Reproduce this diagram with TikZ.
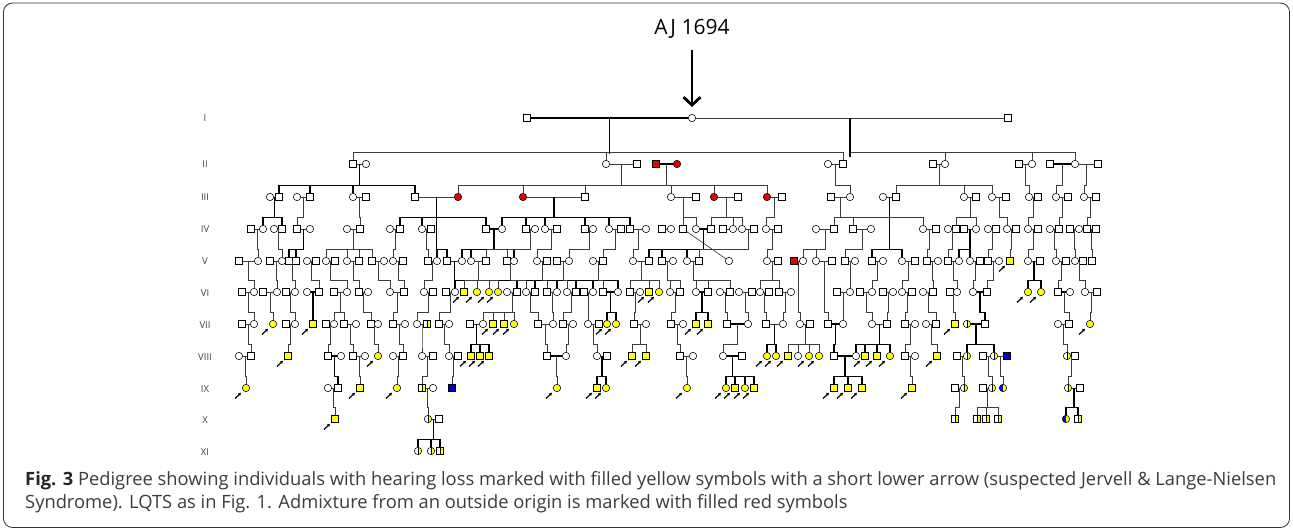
\documentclass[tikz,border=0pt]{standalone}
\usepackage{fontspec}
\setmainfont{Open Sans}
\usepackage{graphicx}
\usetikzlibrary{calc,arrows.meta}
\definecolor{pyel}{RGB}{255,255,0}
\definecolor{pred}{RGB}{232,0,0}
\definecolor{pblue}{RGB}{0,0,205}
\definecolor{lgray}{RGB}{60,60,60}
\definecolor{capgray}{RGB}{60,60,60}
\newcommand\gen[3]{\foreach \xx/\tp in {#3}{\node[\tp] (#1\xx) at (\xx,#2) {};}}
\newcommand\weds[2][ln]{\foreach \pa/\pb in {#2}{\draw[#1] (\pa) -- (\pb);}}
\newcommand\fmly[4][ln]{\foreach \ch in {#4}{\draw[#1] ($(#2)!.5!(#3)$) |- ([yshift=7.5pt]\ch.north) -- (\ch.north);}}
\newcommand\arrs[1]{\foreach \nn in {#1}{\draw[arw] ([shift={(-11pt,-10.5pt)}]\nn.center) -- ([shift={(-5pt,-4.8pt)}]\nn.center);}}
\newcommand\capone{\textbf{\color{black!85}Fig. 3} Pedigree showing individuals with hearing loss marked with filled yellow symbols with a short lower arrow (suspected Jervell \& Lange-Nielsen}
\newcommand\captwo{Syndrome). LQTS as in Fig. 1. Admixture from an outside origin is marked with filled red symbols}
\newlength\capw
\begin{document}
\settowidth\capw{\fontsize{14}{18}\selectfont\capone}
\pgfmathsetmacro\capsc{1251/\capw}
\begin{tikzpicture}[x=1pt,y=-1pt,
 sym/.style={draw=black, line width=0.55pt, inner sep=0pt, minimum size=7.4pt, fill=white},
 ma/.style={sym, rectangle},
 fe/.style={sym, circle},
 may/.style={ma, fill=pyel}, fey/.style={fe, fill=pyel},
 mar/.style={ma, fill=pred}, fer/.style={fe, fill=pred},
 mab/.style={ma, fill=pblue}, feb/.style={fe, fill=pblue},
 mac/.style={ma, path picture={\fill[pyel] (path picture bounding box.north) rectangle (path picture bounding box.south east); \draw[line width=0.4pt] (path picture bounding box.north) -- (path picture bounding box.south);}},
 fec/.style={fe, path picture={\fill[pyel] (path picture bounding box.north) rectangle (path picture bounding box.south east); \draw[line width=0.4pt] (path picture bounding box.north) -- (path picture bounding box.south);}},
 fehb/.style={fe, path picture={\fill[pblue] (path picture bounding box.north west) rectangle (path picture bounding box.south); \fill[pyel] (path picture bounding box.north) rectangle (path picture bounding box.south east);}},
 ln/.style={line width=0.65pt, draw=lgray},
 bd/.style={line width=1.5pt, draw=black},
 arw/.style={line width=1.2pt, black, -{Stealth[length=3pt,width=3.4pt]}},
 glab/.style={font=\fontsize{9.5}{10}\selectfont, text=black!75, inner sep=0pt},
 bigarr/.style={line width=2.8pt, -{Straight Barb[length=8pt,width=17pt]}},
]
\useasboundingbox (0,0) rectangle (1293,529);
\fill[white] (0,0) rectangle (1293,529);
\draw[line width=0.8pt, black!80, rounded corners=9pt] (3.5,3) rectangle (1289.5,527.5);

% title
\node[font=\fontsize{21}{24}\selectfont] (title) at (692,29) {AJ 1694};

% generation labels
\foreach \lab/\yy in {I/118,II/164,III/197,IV/229,V/261,VI/293,VII/325,VIII/357,IX/389,X/420,XI/452}
  {\node[glab] (lab\lab) at (205,\yy) {\lab};}

% ---------------- symbols ----------------
\gen{a}{118}{527/ma,692/fe,1008/ma}
\gen{b}{164}{353/ma,366/fe,606/fe,637/ma,656/mar,677/fer,828/fe,843/ma,933/ma,945/fe,1019/ma,1032/fe,1050/ma,1075/fe,1098/ma}
\gen{c}{197}{270/fe,279/ma,297/fe,310/ma,353/fe,366/ma,415/ma,458/fer,523/fer,585/ma,671/fe,696/ma,714/fer,738/ma,767/fer,782/ma,831/ma,850/fe,883/fe,896/ma,964/fe,976/ma,992/fe,1006/ma,1029/fe,1038/ma,1056/fe,1068/ma,1084/fe,1096/ma}
\gen{d}{229}{251/ma,263/fe,274/fe,282/ma,297/ma,310/fe,347/fe,360/ma,390/fe,400/ma,422/fe,431/ma,486/ma,502/fe,526/ma,535/fe,545/fe,557/ma,585/ma,593/fe,609/fe,621/ma,630/ma,646/fe,662/ma,671/fe,683/ma,696/fe,711/ma,723/ma,733/fe,742/fe,754/ma,766/fe,778/ma,816/fe,834/ma,853/ma,871/fe,923/fe,936/ma,948/fe,956/ma,964/ma,976/fe,988/fe,996/ma,1007/fe,1016/ma,1028/fe,1038/ma,1050/fe,1059/ma,1070/ma,1079/fe,1087/ma,1096/ma}
\gen{e}{261}{239/ma,258/fe,270/ma,282/fe,289/ma,296/ma,307/fe,316/ma,326/fe,335/ma,347/fe,359/ma,372/ma,384/fe,393/fe,403/ma,428/ma,437/fe,447/ma,462/fe,471/fe,486/ma,507/ma,514/fe,537/fe,547/ma,557/ma,569/fe,593/fe,603/ma,633/fe,649/ma,662/ma,673/fe,687/fe,699/ma,729/fe,767/fe,778/ma,794/mar,803/fe,816/fe,832/ma,845/ma,855/fe,872/ma,883/fe,902/fe,915/ma,927/ma,938/fe,948/ma,959/fe,970/fe,980/ma,988/ma,999/fe,1010/may,1028/fe,1040/ma,1056/fe,1066/ma,1075/fe,1083/ma,1092/ma}
\gen{f}{292}{242/ma,254/fe,263/ma,277/fe,286/ma,295/fe,307/fe,319/ma,334/ma,347/fe,359/ma,368/fe,390/fe,404/ma,424/fe,433/ma,446/ma,455/fe,464/may,477/fey,489/fey,498/fey,507/fe,517/ma,526/fe,535/ma,547/ma,557/fe,567/fe,576/ma,584/ma,593/fe,603/ma,618/fe,630/ma,640/fe,649/may,659/fey,670/fe,680/ma,696/fe,708/ma,720/fe,730/ma,739/fe,752/ma,760/fe,769/ma,779/ma,791/fe,837/ma,850/fe,860/ma,872/fe,883/ma,893/fe,902/fe,912/ma,923/fe,933/ma,950/ma,957/fe,973/fe,987/ma,1028/fey,1041/fey,1058/ma,1070/fe,1085/fe,1097/ma}
\gen{g}{324}{242/ma,254/fe,273/fey,286/ma,295/fe,313/may,326/ma,334/fe,344/ma,356/fe,371/ma,378/fe,393/ma,405/fe,417/fe,427/mac,439/ma,449/fe,470/ma,483/fe,493/may,504/may,514/fey,538/ma,553/fe,563/ma,573/fe,588/fe,599/ma,607/fey,616/fey,634/ma,646/fe,671/ma,683/fe,696/may,708/may,727/ma,748/fe,766/ma,783/fe,800/fe,810/ma,828/ma,843/fe,872/fe,887/ma,905/ma,915/fe,926/fe,936/ma,955/may,967/fec,985/ma,1058/fe,1069/ma,1090/fey}
\gen{h}{356}{239/fe,251/ma,288/may,328/ma,341/fe,353/ma,365/fe,378/fey,393/fe,403/ma,422/fe,433/ma,449/fe,458/ma,471/may,480/may,489/may,547/ma,566/fe,597/fe,607/ma,632/may,646/may,680/ma,693/fe,723/fe,742/ma,767/fey,776/fey,788/may,798/fe,809/fey,819/fey,834/ma,856/fe,865/may,877/may,890/fey,905/ma,915/fe,937/may,957/ma,967/fec,983/ma,994/fec,1007/mab,1067/fec,1075/ma}
\gen{i}{388}{246/fey,328/fe,338/ma,360/may,397/fey,422/mac,433/fe,452/mab,557/fey,597/may,606/fey,687/fey,726/fey,735/may,745/fey,754/may,834/may,848/may,862/may,912/may,955/ma,964/fec,983/ma,992/fec,1003/fehb,1068/fec,1080/ma}
\gen{j}{419}{335/may,428/fec,439/ma,955/mac,977/mac,986/mac,998/mac,1066/fehb,1078/mac}
\gen{k}{451}{418/fec,431/fec,440/mac}

% ---------------- marriages ----------------
\weds[bd]{a527/a692}
\weds{a692/a1008}
\weds{b353/b366,b606/b637,b828/b843,b933/b945,b1019/b1032,b1075/b1098}
\weds[bd]{b656/b677,b1050/b1075}
\weds{c270/c279,c297/c310,c353/c366,c415/c458,c523/c585,c671/c696,c714/c738,c767/c782,c831/c850,c883/c896,c964/c976,c992/c1006,c1029/c1038,c1056/c1068,c1084/c1096}
\weds{d251/d263,d274/d282,d297/d310,d347/d360,d390/d400,d422/d431,d526/d535,d545/d557,d585/d593,d609/d621,d630/d646,d662/d671,d723/d733,d742/d754,d766/d778,d816/d834,d853/d871,d923/d936,d948/d956,d964/d976,d988/d996,d1007/d1016,d1028/d1038,d1050/d1059,d1070/d1079,d1087/d1096}
\weds[bd]{d486/d502,d696/d711}
\weds{e239/e258,e270/e282,e289/e296,e307/e316,e326/e335,e347/e359,e372/e384,e393/e403,e428/e437,e447/e462,e471/e486,e507/e514,e537/e547,e557/e569,e593/e603,e633/e649,e662/e673,e687/e699,e767/e778,e794/e803,e816/e832,e845/e855,e872/e883,e902/e915,e927/e938,e948/e959,e970/e980,e988/e999,e1028/e1040,e1056/e1066,e1075/e1083}
\weds{f242/f254,f263/f277,f286/f295,f334/f347,f359/f368,f390/f404,f424/f433,f446/f455,f507/f517,f526/f535,f547/f557,f567/f576,f584/f593,f630/f640,f670/f680,f720/f730,f739/f752,f760/f769,f779/f791,f837/f850,f860/f872,f883/f893,f902/f912,f923/f933,f950/f957,f1085/f1097}
\weds[bd]{f307/f319,f603/f618,f696/f708,f973/f987,f1058/f1070}
\weds{g242/g254,g286/g295,g326/g334,g344/g356,g371/g378,g393/g405,g417/g427,g439/g449,g470/g483,g538/g553,g563/g573,g588/g599,g634/g646,g671/g683,g766/g783,g800/g810,g872/g887,g905/g915,g926/g936,g1058/g1069}
\weds[bd]{g727/g748,g828/g843,g967/g985}
\weds{h239/h251,h353/h365,h393/h403,h422/h433,h449/h458,h597/h607,h680/h693,h905/h915,h957/h967,h983/h994,h994/h1007,h1067/h1075}
\weds[bd]{h328/h341,h547/h566,h723/h742,h834/h856}
\weds{i328/i338,i422/i433,i955/i964,i983/i992,i1068/i1080}
\weds{j428/j439}
\draw[ln] (d683) -- (e729);

% ---------------- descents ----------------
\fmly{a527}{a692}{b353,b606,b843}
\fmly{a692}{a1008}{b945,b1032,b1075}
\draw[bd] ($(a527)!.5!(a692)$) -- ++(0,36);
\draw[bd] ($(a692)!.5!(a1008)$) -- ++(0,39);
\fmly[bd]{b353}{b366}{c279,c310,c353,c415}
\fmly{b606}{b637}{c585,c671}
\fmly{b656}{b677}{c458,c523,c714,c767}
\fmly{b828}{b843}{c850}
\fmly{b933}{b945}{c896,c964,c992}
\fmly{b1019}{b1032}{c1029}
\fmly{b1050}{b1075}{c1056}
\fmly{b1075}{b1098}{c1084}

\fmly[bd]{c270}{c279}{d263,d282}
\fmly{c297}{c310}{d297}
\fmly{c353}{c366}{d360}
\fmly[bd]{c415}{c458}{d400,d422,d486,e437,e447}
\fmly[bd]{c523}{c585}{d502,d526,d545,d585,d609,d630}
\fmly{c671}{c696}{d683,d696}
\fmly{c714}{c738}{d711,d733,d742}
\fmly{c767}{c782}{d766}
\fmly{c831}{c850}{d834,d853,d923}
\fmly[bd]{c883}{c896}{e872,e902}
\fmly{c964}{c976}{d956,d976}
\fmly{c992}{c1006}{d1007}
\fmly{c1029}{c1038}{d1028}
\fmly{c1056}{c1068}{d1059}
\fmly{c1084}{c1096}{d1087}

\fmly{d251}{d263}{e258}
\fmly{d274}{d282}{e282}
\fmly[bd]{d297}{d310}{e289,e296}
\fmly{d347}{d360}{e326,e347,e359,e372}
\fmly{d390}{d400}{e393}
\fmly{d422}{d431}{e428}
\fmly[bd]{d486}{d502}{e462,e471,e514}
\fmly{d526}{d535}{e486,e507}
\fmly{d545}{d557}{e537}
\fmly{d585}{d593}{e569}
\fmly{d609}{d621}{e603}
\fmly{d630}{d646}{e633}
\fmly[bd]{d696}{d711}{e649,e662,e687}
\fmly{d742}{d754}{e699}
\fmly{d766}{d778}{e767}
\fmly{d816}{d834}{e803,e816}
\fmly{d853}{d871}{e845}
\fmly{d923}{d936}{e927}
\fmly{d948}{d956}{e948}
\fmly[bd]{d964}{d976}{e959,e970}
\fmly{d988}{d996}{e988}
\fmly{d1007}{d1016}{e1010}
\fmly{d1028}{d1038}{e1028}
\fmly{d1050}{d1059}{e1056}
\fmly{d1070}{d1079}{e1075}
\fmly{d1087}{d1096}{e1092}

\fmly{e239}{e258}{f254}
\fmly{e270}{e282}{f277}
\fmly{e289}{e296}{f295}
\fmly{e307}{e316}{f319}
\fmly{e326}{e335}{f347}
\fmly{e347}{e359}{f359}
\fmly{e372}{e384}{f390}
\fmly{e393}{e403}{f404}
\fmly{e428}{e437}{f424}
\fmly[bd]{e447}{e462}{f455,f517,f535,f557,f576,f593,f618}
\fmly{e471}{e486}{f464,f477,f489,f498}
\fmly{e507}{e514}{f526}
\fmly{e537}{e547}{f547}
\fmly{e557}{e569}{f567}
\fmly{e593}{e603}{f603}
\fmly{e633}{e649}{f630,f649,f659}
\fmly{e662}{e673}{f670,f680}
\fmly{e687}{e699}{f696,f708,f730}
\fmly{e767}{e778}{f760,f779}
\fmly{e794}{e803}{g800}
\fmly{e816}{e832}{g828}
\fmly{e845}{e855}{f850}
\fmly{e872}{e883}{f872}
\fmly{e902}{e915}{f902}
\fmly{e927}{e938}{f933}
\fmly{e948}{e959}{f957}
\fmly{e970}{e980}{f973}
\fmly{e988}{e999}{f987}
\fmly[bd]{e1028}{e1040}{f1028,f1041}
\fmly{e1056}{e1066}{f1058}
\fmly{e1075}{e1083}{f1085}

\fmly{f242}{f254}{g254}
\fmly{f263}{f277}{g273}
\fmly{f286}{f295}{g295}
\fmly[bd]{f307}{f319}{g313}
\fmly{f334}{f347}{g334,g344}
\fmly{f359}{f368}{g371}
\fmly{f390}{f404}{g393}
\fmly{f424}{f433}{g417}
\fmly{f446}{f455}{g439}
\fmly{f507}{f517}{g483,g493,g504,g514}
\fmly{f526}{f535}{g538}
\fmly{f547}{f557}{g553}
\fmly{f567}{f576}{g563}
\fmly{f584}{f593}{g588}
\fmly[bd]{f603}{f618}{g607,g616}
\fmly{f630}{f640}{g634}
\fmly{f670}{f680}{g671}
\fmly[bd]{f696}{f708}{g696,g708}
\fmly{f720}{f730}{g727}
\fmly{f739}{f752}{g748}
\fmly{f760}{f769}{g766}
\fmly{f779}{f791}{g783}
\fmly{f837}{f850}{g843}
\fmly{f860}{f872}{g872}
\fmly{f883}{f893}{g887}
\fmly{f902}{f912}{g905}
\fmly{f923}{f933}{g936}
\fmly{f950}{f957}{g955}
\fmly[bd]{f973}{f987}{g985}
\fmly{f1058}{f1070}{g1069}
\fmly{f1085}{f1097}{g1090}

\fmly{g242}{g254}{h251}
\fmly{g286}{g295}{h288}
\fmly{g326}{g334}{h328}
\fmly{g344}{g356}{h353}
\fmly{g371}{g378}{h378}
\fmly{g393}{g405}{h403}
\fmly{g417}{g427}{h422}
\fmly{g439}{g449}{h449}
\fmly[bd]{g470}{g483}{h471,h480,h489}
\fmly{g538}{g553}{h547}
\fmly{g563}{g573}{h566}
\fmly{g588}{g599}{h597}
\fmly{g634}{g646}{h632,h646}
\fmly{g671}{g683}{h680}
\fmly{g727}{g748}{h723}
\fmly[bd]{g766}{g783}{h767,h776}
\fmly{g800}{g810}{h788,h798,h809,h819}
\fmly[bd]{g828}{g843}{h834}
\fmly[bd]{g872}{g887}{h856,h865,h877,h890}
\fmly{g905}{g915}{h905}
\fmly{g926}{g936}{h937}
\fmly[bd]{g967}{g985}{h967,h994}
\fmly{g1058}{g1069}{h1067}

\fmly{h239}{h251}{i246}
\fmly[bd]{h328}{h341}{i338}
\fmly{h353}{h365}{i360}
\fmly{h393}{h403}{i397}
\fmly{h422}{h433}{i422}
\fmly{h449}{h458}{i452}
\fmly{h547}{h566}{i557}
\fmly[bd]{h597}{h607}{i597,i606}
\fmly{h680}{h693}{i687}
\fmly[bd]{h723}{h742}{i726,i735,i745,i754}
\fmly[bd]{h834}{h856}{i834,i848,i862}
\fmly{h905}{h915}{i912}
\fmly{h957}{h967}{i964}
\fmly{h983}{h994}{i992}
\fmly{h994}{h1007}{i1003}
\fmly{h1067}{h1075}{i1068}

\fmly{i328}{i338}{j335}
\fmly{i422}{i433}{j428}
\fmly{i955}{i964}{j955}
\fmly{i983}{i992}{j977,j986,j998}
\fmly[bd]{i1068}{i1080}{j1066,j1078}
\fmly[bd]{j428}{j439}{k418,k431,k440}

% ---------------- short arrows ----------------
\arrs{e1010}
\arrs{f464,f477,f489,f498,f649,f659,f1028,f1041}
\arrs{g273,g313,g493,g504,g514,g607,g616,g696,g708,g955,g1090}
\arrs{h288,h378,h471,h480,h489,h632,h646,h767,h776,h788,h809,h819,h865,h877,h890,h937}
\arrs{i246,i360,i397,i557,i597,i606,i687,i726,i735,i745,i754,i834,i848,i862,i912}
\arrs{j335}

% big arrow
\draw[bigarr, shorten <=8pt, shorten >=7pt] (title.south) -- (a692.north);

% caption
\node[anchor=base west, inner sep=0pt, text=capgray] (cap1) at (25,485) {\scalebox{\capsc}{\fontsize{14}{18}\selectfont\capone}};
\node[anchor=base west, inner sep=0pt, text=capgray] (cap2) at (25,508) {\scalebox{\capsc}{\fontsize{14}{18}\selectfont\captwo}};
\end{tikzpicture}
\end{document}
